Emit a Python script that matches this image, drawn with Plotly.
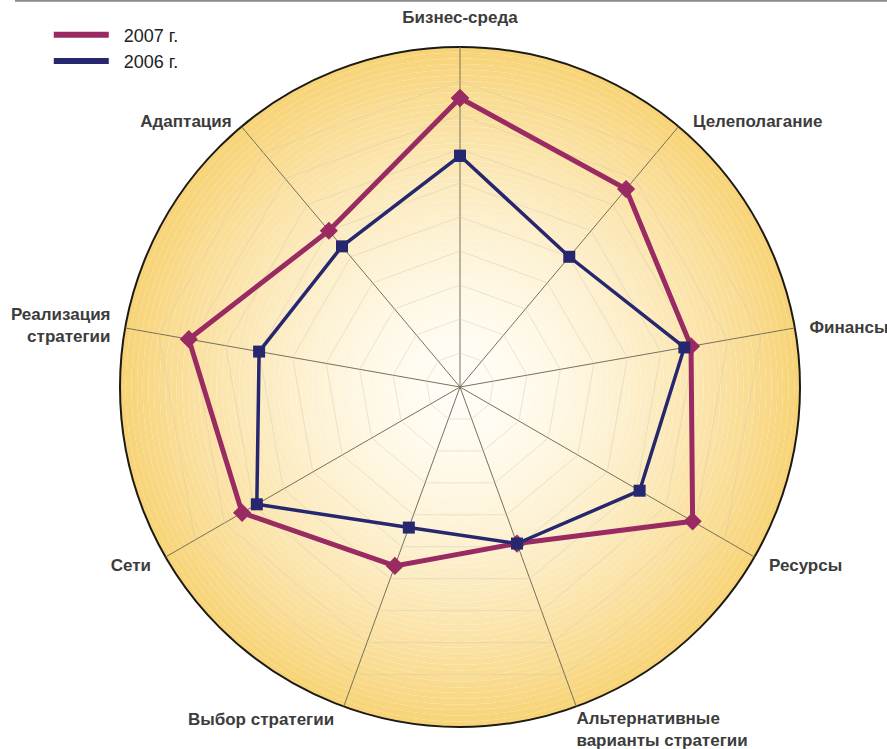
import plotly.graph_objects as go

categories = ["Бизнес-среда", "Целеполагание", "Финансы", "Ресурсы",
              "Альтернативные<br>варианты стратегии", "Выбор стратегии",
              "Сети", "Реализация<br>стратегии", "Адаптация"]
values_2007 = [8.5, 7.6, 6.9, 7.9, 4.9, 5.6, 7.4, 8.1, 6.0]
values_2006 = [6.8, 5.0, 6.7, 6.1, 4.9, 4.4, 6.9, 6.0, 5.4]
series_names = ["2007 г.", "2006 г."]
grid_levels = [1, 2, 3, 4, 5, 6, 7, 8, 9]
r_max = 10

col_2007 = "#9a2b62"
col_2006 = "#26276f"

NB = "\u00a0"
# label spacing from the circle (non-breaking spaces keep labels off the rim)
pad_before = {1: 3, 2: 3, 3: 3}
pad_after = {5: 2, 6: 3, 7: 3, 8: 2}

def padded(i, name):
    pre = NB * pad_before.get(i, 0)
    post = NB * pad_after.get(i, 0)
    return "<br>".join(pre + part + post for part in name.split("<br>"))

fig = go.Figure()

# radial gradient background made of thin rings (polar)
n_rings = 60
inner = (255, 253, 246)
outer = (248, 211, 118)
bases, widths, colors = [], [], []
for i in range(n_rings):
    r0 = r_max * i / n_rings
    t = (i + 0.5) / n_rings
    w = t ** 1.6
    c = tuple(int(round(inner[k] * (1 - w) + outer[k] * w)) for k in range(3))
    bases.append(r0)
    widths.append(r_max / n_rings)
    colors.append("rgb(%d,%d,%d)" % c)

fig.add_trace(go.Barpolar(
    r=widths, base=bases, theta=[0] * n_rings, width=[360] * n_rings,
    marker=dict(color=colors, line=dict(width=0)),
    hoverinfo="skip", showlegend=False, subplot="polar"))

def closed(v):
    return v + [v[0]]

cats_closed = closed(categories)

fig.add_trace(go.Scatterpolar(
    r=closed(values_2007), theta=cats_closed, mode="lines+markers",
    line=dict(color=col_2007, width=5),
    marker=dict(symbol="diamond", size=14, color=col_2007),
    showlegend=False, subplot="polar2", name=series_names[0]))
fig.add_trace(go.Scatterpolar(
    r=closed(values_2006), theta=cats_closed, mode="lines+markers",
    line=dict(color=col_2006, width=3.5),
    marker=dict(symbol="square", size=12, color=col_2006),
    showlegend=False, subplot="polar2", name=series_names[1]))

# category labels on overlaid, otherwise invisible polars
for sp in ("polar3", "polar4"):
    fig.add_trace(go.Scatterpolar(
        r=[0] * len(categories), theta=categories, mode="markers",
        marker=dict(opacity=0), hoverinfo="skip", showlegend=False,
        subplot=sp))

# legend entries (lines only)
fig.add_trace(go.Scatterpolar(r=[None], theta=[categories[0]], mode="lines",
                              line=dict(color=col_2007, width=6),
                              name=NB * 2 + series_names[0], subplot="polar2"))
fig.add_trace(go.Scatterpolar(r=[None], theta=[categories[0]], mode="lines",
                              line=dict(color=col_2006, width=6),
                              name=NB * 2 + series_names[1], subplot="polar2"))

W, H = 887, 749
cx, cy, R = 460, 387, 340
dom = dict(x=[(cx - R) / W, (cx + R) / W], y=[1 - (cy + R) / H, 1 - (cy - R) / H])

label_font = dict(size=17, color="#3c3c3c", weight="bold",
                  family="Liberation Sans, Arial, sans-serif")
side_vals = categories[1:]
top_vals = categories[:1]

fig.update_layout(
    width=W, height=H,
    margin=dict(l=0, r=0, t=0, b=0),
    paper_bgcolor="white", plot_bgcolor="white",
    font=dict(family="Liberation Sans, Arial, sans-serif", size=13, color="#333333"),
    polar=dict(
        domain=dom, bgcolor="rgba(0,0,0,0)",
        radialaxis=dict(visible=False, range=[0, r_max]),
        angularaxis=dict(showline=True, linecolor="#1c1a14", linewidth=2,
                         showgrid=False, showticklabels=False, ticks=""),
        barmode="overlay",
    ),
    polar2=dict(
        domain=dom, bgcolor="rgba(0,0,0,0)", gridshape="linear",
        radialaxis=dict(range=[0, r_max], tickvals=grid_levels, showticklabels=False,
                        ticks="", showline=False, gridcolor="rgba(215,200,170,0.45)",
                        gridwidth=1, angle=90),
        angularaxis=dict(direction="clockwise", rotation=90, showline=False,
                         gridcolor="#77705c", gridwidth=1, ticks="",
                         showticklabels=False),
    ),
    polar3=dict(
        domain=dom, bgcolor="rgba(0,0,0,0)",
        radialaxis=dict(visible=False, range=[0, r_max]),
        angularaxis=dict(direction="clockwise", rotation=90, showline=False,
                         showgrid=False, ticks="",
                         tickvals=side_vals,
                         ticktext=[padded(i + 1, c) for i, c in enumerate(side_vals)],
                         tickfont=label_font),
    ),
    polar4=dict(
        domain=dom, bgcolor="rgba(0,0,0,0)",
        radialaxis=dict(visible=False, range=[0, r_max]),
        angularaxis=dict(direction="clockwise", rotation=90, showline=False,
                         showgrid=False, ticks="outside", ticklen=17,
                         tickcolor="rgba(0,0,0,0)",
                         tickvals=top_vals, ticktext=top_vals,
                         tickfont=label_font),
    ),
    legend=dict(x=0.055, y=0.978, xanchor="left", yanchor="top",
                font=dict(size=18, color="#222222"), itemwidth=55,
                bgcolor="rgba(0,0,0,0)", tracegroupgap=0),
    shapes=[dict(type="line", xref="paper", yref="paper", x0=15 / W, x1=1,
                 y0=0.999, y1=0.999, line=dict(color="#8a8a8a", width=2))],
)

fig.write_html("out.html", post_script="document.body.style.margin='0px';",
               config={"displayModeBar": False})
